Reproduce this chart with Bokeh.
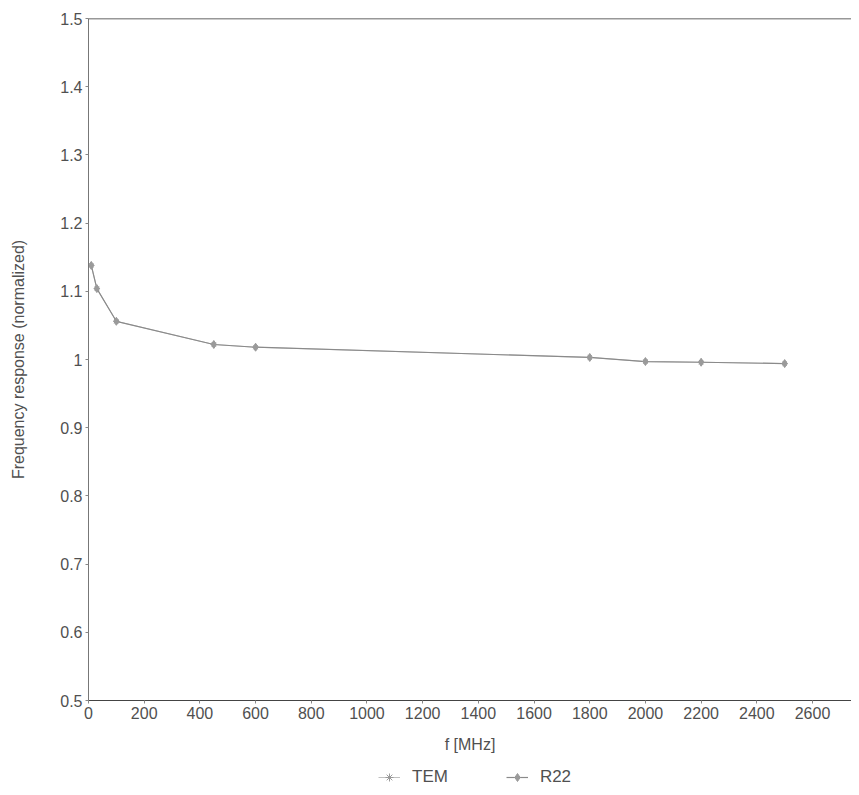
from bokeh.plotting import figure
from bokeh.layouts import column
from bokeh.models import (FixedTicker, CustomJSTickFormatter, Legend, LegendItem,
                          Span, Range1d)
from bokeh.embed import file_html
from bokeh.resources import INLINE

# Data
freq_mhz = [10, 30, 100, 450, 600, 1800, 2000, 2200, 2500]
tem = [1.138, 1.104, 1.056, 1.022, 1.018, 1.003, 0.997, 0.996, 0.994]
r22 = [1.138, 1.104, 1.056, 1.022, 1.018, 1.003, 0.997, 0.996, 0.994]
x_ticks = [0, 200, 400, 600, 800, 1000, 1200, 1400, 1600, 1800, 2000, 2200, 2400, 2600]
y_ticks = [0.5, 0.6, 0.7, 0.8, 0.9, 1.0, 1.1, 1.2, 1.3, 1.4, 1.5]

FONT = "Liberation Sans"
TXT = "#505050"
TEM_LINE, TEM_MARK = "#c0c0c0", "#9a9a9a"
R22_LINE, R22_MARK = "#8a8a8a", "#9a9a9a"

p = figure(width=851, height=760, output_backend="svg", toolbar_location=None,
           x_range=Range1d(0, 2740), y_range=Range1d(0.5, 1.5),
           min_border_left=88, min_border_top=18, min_border_right=0,
           min_border_bottom=60)
p.outline_line_color = None
p.xgrid.grid_line_color = None
p.ygrid.grid_line_color = None

p.line(freq_mhz, tem, line_color=TEM_LINE, line_width=1)
p.scatter(freq_mhz, tem, marker="asterisk", size=6, line_color=TEM_MARK)
p.line(freq_mhz, r22, line_color=R22_LINE, line_width=1.2)
p.scatter(freq_mhz, r22, marker="diamond", size=8, fill_color=R22_MARK,
          line_color=R22_MARK)

top = Span(location=1.5, dimension="width", line_color="#333333", line_width=1.5)
p.add_layout(top)

for ax in (p.xaxis[0], p.yaxis[0]):
    ax.major_tick_line_color = "#888888"
    ax.major_tick_in = 0
    ax.major_tick_out = 3
    ax.major_label_standoff = 3
    ax.minor_tick_line_color = None
    ax.major_label_text_font = FONT
    ax.major_label_text_font_size = "16px"
    ax.major_label_text_color = TXT
    ax.axis_label_text_font = FONT
    ax.axis_label_text_font_size = "16px"
    ax.axis_label_text_font_style = "normal"
    ax.axis_label_text_color = TXT
p.xaxis.axis_line_color = "#444444"
p.yaxis.axis_line_color = "#777777"

p.xaxis.ticker = FixedTicker(ticks=x_ticks)
p.yaxis.ticker = FixedTicker(ticks=y_ticks)
p.yaxis.formatter = CustomJSTickFormatter(code="return String(Number(tick.toFixed(1)));")
p.xaxis.axis_label = "f [MHz]"
p.yaxis.axis_label = "Frequency response (normalized)"
p.xaxis.axis_label_standoff = 14
p.yaxis.axis_label_standoff = 30

# Legend strip below the chart (its series are drawn off-range, only the legend shows)
lg = figure(width=851, height=27, output_backend="svg", toolbar_location=None,
            x_range=Range1d(-2, -1), y_range=Range1d(-2, -1),
            min_border=0, x_axis_type=None, y_axis_type=None)
lg.outline_line_color = None
lg.xgrid.grid_line_color = None
lg.ygrid.grid_line_color = None
l_tem = lg.line(freq_mhz, tem, line_color=TEM_LINE, line_width=1)
s_tem = lg.scatter(freq_mhz, tem, marker="asterisk", size=6, line_color=TEM_MARK)
l_r22 = lg.line(freq_mhz, r22, line_color=R22_LINE, line_width=1.2)
s_r22 = lg.scatter(freq_mhz, r22, marker="diamond", size=8, fill_color=R22_MARK,
                   line_color=R22_MARK)
legend = Legend(items=[LegendItem(label="TEM", renderers=[l_tem, s_tem]),
                       LegendItem(label="R22", renderers=[l_r22, s_r22])],
                orientation="horizontal", location=(290, 0),
                border_line_color=None, background_fill_alpha=0,
                label_text_font=FONT, label_text_font_size="17px",
                label_text_color=TXT, spacing=58, glyph_width=22,
                label_standoff=12, margin=0, padding=0)
lg.add_layout(legend)

open("out.html", "w").write(file_html(column(p, lg, spacing=0), INLINE))
